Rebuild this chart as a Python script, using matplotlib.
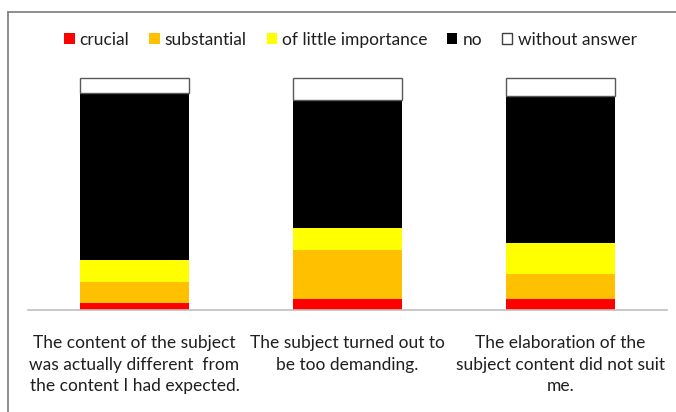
import matplotlib
matplotlib.use("Agg")
import matplotlib.pyplot as plt
import numpy as np

# Survey answers per reason (percent of respondents)
categories = [
    "The content of the subject\nwas actually different  from\nthe content I had expected.",
    "The subject turned out to\nbe too demanding.\n",
    "The elaboration of the\nsubject content did not suit\nme.",
]
series_names = ["crucial", "substantial", "of little importance", "no", "without answer"]
crucial = [2.9, 4.6, 4.6]
substantial = [9.3, 21.3, 10.8]
little = [9.3, 9.3, 13.6]
no = [72.1, 55.4, 63.4]
no_answer = [6.4, 9.4, 7.6]
series = [crucial, substantial, little, no, no_answer]
colors = ["#ff0000", "#ffc000", "#ffff00", "#000000", "#ffffff"]

plt.rcParams["font.family"] = ["Lato", "DejaVu Sans"]
FS = 12.5
TXT = "#1f1f1f"

fig = plt.figure(figsize=(6.76, 4.12), dpi=100)
ax = fig.add_axes([28 / 676, 1 - 310 / 412, 639 / 676, 232 / 412])

x = np.arange(len(categories))
bottom = np.zeros(len(categories))
handles = []
for name, vals, col in zip(series_names, series, colors):
    vals = np.array(vals)
    edge = "#595959" if col == "#ffffff" else "none"
    bars = ax.bar(x, vals, width=0.512, bottom=bottom, color=col,
                  edgecolor=edge, linewidth=1.0, label=name, clip_on=False)
    handles.append(bars)
    bottom += vals

ax.set_xlim(-0.5, len(categories) - 0.5)
ax.set_ylim(0, 100)
ax.set_yticks([])
ax.set_xticks(x)
ax.set_xticklabels(categories, fontsize=FS, color=TXT, linespacing=1.44,
                   va="top")
ax.tick_params(axis="x", length=0, pad=18)
for side in ["left", "right", "top"]:
    ax.spines[side].set_visible(False)
ax.spines["bottom"].set_color("#bfbfbf")
ax.spines["bottom"].set_linewidth(1.2)

leg = fig.legend(handles=handles, labels=series_names, loc="center",
                 bbox_to_anchor=(350.5 / 676, 1 - 40 / 412), ncol=5, frameon=False,
                 fontsize=FS, handlelength=0.58, handleheight=0.58,
                 handletextpad=0.3, columnspacing=1.15, borderaxespad=0)
for t in leg.get_texts():
    t.set_color(TXT)
leg.legend_handles[-1].set_edgecolor("#404040")

# Chart frame
fig.add_artist(plt.Line2D([7.5 / 676, 7.5 / 676], [0, 1 - 12 / 412],
                          transform=fig.transFigure, color="#868686", lw=1.3))
fig.add_artist(plt.Line2D([7.5 / 676, 1], [1 - 12 / 412, 1 - 12 / 412],
                          transform=fig.transFigure, color="#868686", lw=1.3))

fig.savefig("out.png", dpi=100)
